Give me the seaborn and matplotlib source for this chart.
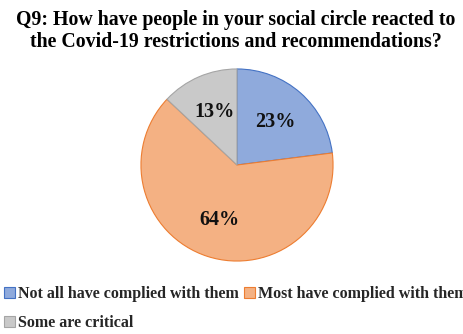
import matplotlib
matplotlib.use("Agg")
import matplotlib.pyplot as plt
import seaborn as sns
from matplotlib.patches import Patch

categories = ["Not all have complied with them", "Most have complied with them", "Some are critical"]
values = [23, 64, 13]
fill_colors = ["#8FAADC", "#F4B183", "#C9C9C9"]
edge_colors = ["#4472C4", "#ED7D31", "#A5A5A5"]
title = "Q9: How have people in your social circle reacted to\nthe Covid-19 restrictions and recommendations?"

sns.set_theme(style="white")
plt.rcParams["font.family"] = ["Liberation Serif", "DejaVu Serif"]

fig = plt.figure(figsize=(4.64, 3.34), dpi=100)
ax = fig.add_axes([140/464, (334-262)/334, 194/464, 194/334])

wedges, texts, autotexts = ax.pie(
    values, colors=fill_colors, startangle=90, counterclock=False,
    autopct=lambda p: f"{p:.0f}%", pctdistance=0.6,
    wedgeprops=dict(linewidth=0.8),
    textprops=dict(fontsize=14.5, fontweight="bold", color="#111111"))
for w, ec in zip(wedges, edge_colors):
    w.set_edgecolor(ec)
ax.set_xlim(-1.01, 1.01)
ax.set_ylim(-1.01, 1.01)
ax.set_aspect("equal")
ax.axis("off")

fig.text(0.508, 0.97, title, ha="center", va="top", fontsize=14.3,
         fontweight="bold", linespacing=1.15, color="#000000")

handles = [Patch(facecolor=f, edgecolor=e, linewidth=0.8) for f, e in zip(fill_colors, edge_colors)]
order = [0, 2, 1]
fig.legend([handles[i] for i in order], [categories[i] for i in order],
           loc="lower left", bbox_to_anchor=(-0.002, -0.005), ncol=2,
           frameon=False, prop=dict(size=11.5, weight="bold"),
           handlelength=0.7, handleheight=0.7, handletextpad=0.2, columnspacing=0.3,
           labelspacing=0.8, borderpad=0.3, borderaxespad=0.0)

fig.savefig("out.png", dpi=100)
